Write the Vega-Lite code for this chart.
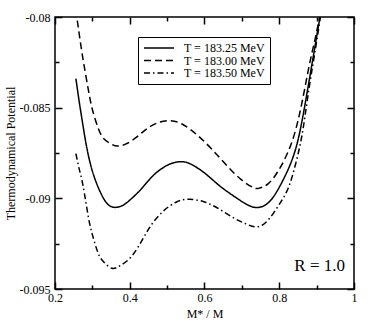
{
  "$schema": "https://vega.github.io/schema/vega-lite/v6.json",
  "width": 299,
  "height": 272,
  "autosize": {"type": "none"},
  "padding": {"left": 55, "top": 17, "right": 28, "bottom": 38},
  "background": "white",
  "config": {
    "view": {"stroke": "black", "strokeWidth": 1.5},
    "font": "Liberation Serif",
    "axis": {
      "grid": false,
      "domain": false,
      "tickColor": "black",
      "tickWidth": 1.5,
      "labelColor": "black",
      "labelFont": "Liberation Serif",
      "labelFontSize": 12,
      "titleFont": "Liberation Serif",
      "titleFontWeight": "normal",
      "titleColor": "black",
      "titleFontSize": 12
    }
  },
  "datasets": {
    "curves": [
      {"T": "T = 183.25 MeV", "m": 0.256, "v": -0.0834},
      {"T": "T = 183.25 MeV", "m": 0.265, "v": -0.0847},
      {"T": "T = 183.25 MeV", "m": 0.275, "v": -0.0860},
      {"T": "T = 183.25 MeV", "m": 0.285, "v": -0.0872},
      {"T": "T = 183.25 MeV", "m": 0.300, "v": -0.0885},
      {"T": "T = 183.25 MeV", "m": 0.320, "v": -0.0896},
      {"T": "T = 183.25 MeV", "m": 0.340, "v": -0.0903},
      {"T": "T = 183.25 MeV", "m": 0.360, "v": -0.0905},
      {"T": "T = 183.25 MeV", "m": 0.380, "v": -0.0904},
      {"T": "T = 183.25 MeV", "m": 0.400, "v": -0.0901},
      {"T": "T = 183.25 MeV", "m": 0.430, "v": -0.0895},
      {"T": "T = 183.25 MeV", "m": 0.460, "v": -0.0888},
      {"T": "T = 183.25 MeV", "m": 0.490, "v": -0.0883},
      {"T": "T = 183.25 MeV", "m": 0.515, "v": -0.08805},
      {"T": "T = 183.25 MeV", "m": 0.535, "v": -0.08798},
      {"T": "T = 183.25 MeV", "m": 0.560, "v": -0.08808},
      {"T": "T = 183.25 MeV", "m": 0.600, "v": -0.0886},
      {"T": "T = 183.25 MeV", "m": 0.640, "v": -0.0893},
      {"T": "T = 183.25 MeV", "m": 0.680, "v": -0.0899},
      {"T": "T = 183.25 MeV", "m": 0.710, "v": -0.0903},
      {"T": "T = 183.25 MeV", "m": 0.735, "v": -0.0905},
      {"T": "T = 183.25 MeV", "m": 0.760, "v": -0.0904},
      {"T": "T = 183.25 MeV", "m": 0.785, "v": -0.0899},
      {"T": "T = 183.25 MeV", "m": 0.810, "v": -0.0890},
      {"T": "T = 183.25 MeV", "m": 0.830, "v": -0.0881},
      {"T": "T = 183.25 MeV", "m": 0.850, "v": -0.0868},
      {"T": "T = 183.25 MeV", "m": 0.870, "v": -0.0847},
      {"T": "T = 183.25 MeV", "m": 0.890, "v": -0.0823},
      {"T": "T = 183.25 MeV", "m": 0.909, "v": -0.0800},
      {"T": "T = 183.00 MeV", "m": 0.2597, "v": -0.0802},
      {"T": "T = 183.00 MeV", "m": 0.268, "v": -0.0814},
      {"T": "T = 183.00 MeV", "m": 0.278, "v": -0.0827},
      {"T": "T = 183.00 MeV", "m": 0.290, "v": -0.0841},
      {"T": "T = 183.00 MeV", "m": 0.300, "v": -0.0851},
      {"T": "T = 183.00 MeV", "m": 0.315, "v": -0.0861},
      {"T": "T = 183.00 MeV", "m": 0.330, "v": -0.0867},
      {"T": "T = 183.00 MeV", "m": 0.350, "v": -0.0870},
      {"T": "T = 183.00 MeV", "m": 0.367, "v": -0.08712},
      {"T": "T = 183.00 MeV", "m": 0.390, "v": -0.0870},
      {"T": "T = 183.00 MeV", "m": 0.420, "v": -0.0866},
      {"T": "T = 183.00 MeV", "m": 0.450, "v": -0.0861},
      {"T": "T = 183.00 MeV", "m": 0.480, "v": -0.0858},
      {"T": "T = 183.00 MeV", "m": 0.508, "v": -0.08572},
      {"T": "T = 183.00 MeV", "m": 0.540, "v": -0.0859},
      {"T": "T = 183.00 MeV", "m": 0.580, "v": -0.0865},
      {"T": "T = 183.00 MeV", "m": 0.620, "v": -0.0873},
      {"T": "T = 183.00 MeV", "m": 0.660, "v": -0.0882},
      {"T": "T = 183.00 MeV", "m": 0.700, "v": -0.0890},
      {"T": "T = 183.00 MeV", "m": 0.730, "v": -0.0894},
      {"T": "T = 183.00 MeV", "m": 0.745, "v": -0.08945},
      {"T": "T = 183.00 MeV", "m": 0.770, "v": -0.0892},
      {"T": "T = 183.00 MeV", "m": 0.797, "v": -0.0885},
      {"T": "T = 183.00 MeV", "m": 0.820, "v": -0.0876},
      {"T": "T = 183.00 MeV", "m": 0.840, "v": -0.0865},
      {"T": "T = 183.00 MeV", "m": 0.860, "v": -0.0848},
      {"T": "T = 183.00 MeV", "m": 0.880, "v": -0.0827},
      {"T": "T = 183.00 MeV", "m": 0.895, "v": -0.0813},
      {"T": "T = 183.00 MeV", "m": 0.908, "v": -0.0800},
      {"T": "T = 183.50 MeV", "m": 0.256, "v": -0.08754},
      {"T": "T = 183.50 MeV", "m": 0.265, "v": -0.0884},
      {"T": "T = 183.50 MeV", "m": 0.275, "v": -0.0893},
      {"T": "T = 183.50 MeV", "m": 0.289, "v": -0.0910},
      {"T": "T = 183.50 MeV", "m": 0.300, "v": -0.0920},
      {"T": "T = 183.50 MeV", "m": 0.315, "v": -0.0930},
      {"T": "T = 183.50 MeV", "m": 0.330, "v": -0.0935},
      {"T": "T = 183.50 MeV", "m": 0.352, "v": -0.09386},
      {"T": "T = 183.50 MeV", "m": 0.375, "v": -0.0937},
      {"T": "T = 183.50 MeV", "m": 0.405, "v": -0.0932},
      {"T": "T = 183.50 MeV", "m": 0.436, "v": -0.0922},
      {"T": "T = 183.50 MeV", "m": 0.460, "v": -0.0914},
      {"T": "T = 183.50 MeV", "m": 0.490, "v": -0.0907},
      {"T": "T = 183.50 MeV", "m": 0.525, "v": -0.0902},
      {"T": "T = 183.50 MeV", "m": 0.560, "v": -0.09005},
      {"T": "T = 183.50 MeV", "m": 0.600, "v": -0.0902},
      {"T": "T = 183.50 MeV", "m": 0.640, "v": -0.0906},
      {"T": "T = 183.50 MeV", "m": 0.680, "v": -0.0911},
      {"T": "T = 183.50 MeV", "m": 0.710, "v": -0.0914},
      {"T": "T = 183.50 MeV", "m": 0.735, "v": -0.09157},
      {"T": "T = 183.50 MeV", "m": 0.760, "v": -0.0914},
      {"T": "T = 183.50 MeV", "m": 0.785, "v": -0.0908},
      {"T": "T = 183.50 MeV", "m": 0.810, "v": -0.0900},
      {"T": "T = 183.50 MeV", "m": 0.830, "v": -0.0891},
      {"T": "T = 183.50 MeV", "m": 0.851, "v": -0.0875},
      {"T": "T = 183.50 MeV", "m": 0.865, "v": -0.0860},
      {"T": "T = 183.50 MeV", "m": 0.880, "v": -0.0839},
      {"T": "T = 183.50 MeV", "m": 0.895, "v": -0.0820},
      {"T": "T = 183.50 MeV", "m": 0.910, "v": -0.0800}
    ]
  },
  "layer": [
    {
      "data": {"name": "curves"},
      "mark": {"type": "line", "strokeWidth": 1.5, "color": "black", "interpolate": "natural", "clip": true},
      "encoding": {
        "x": {
          "field": "m", "type": "quantitative",
          "scale": {"domain": [0.2, 1], "nice": false, "zero": false},
          "axis": {"orient": "bottom", "values": [0.2, 0.4, 0.6, 0.8, 1], "tickSize": -7, "labelPadding": 10, "labelExpr": "'' + datum.value", "labelFlush": false, "labelOverlap": false, "title": "M* / M", "titleY": 28, "titleBaseline": "alphabetic"}
        },
        "y": {
          "field": "v", "type": "quantitative",
          "scale": {"domain": [-0.095, -0.08], "nice": false, "zero": false},
          "axis": {"orient": "left", "values": [-0.095, -0.09, -0.085, -0.08], "tickSize": -7, "labelPadding": 12, "labelExpr": "'' + datum.value", "labelFlush": false, "labelOverlap": false, "title": "Thermodynamical Potential", "titleX": -45, "titleBaseline": "middle"}
        },
        "strokeDash": {
          "field": "T", "type": "nominal",
          "scale": {"domain": ["T = 183.25 MeV", "T = 183.00 MeV", "T = 183.50 MeV"], "range": [[1, 0], [7, 4], [6, 3, 1.5, 3]]},
          "legend": {"orient": "none", "legendX": 83, "legendY": 20, "title": null, "strokeColor": "black", "fillColor": "white", "padding": 5, "symbolType": "M-1,0H5", "symbolSize": 100, "symbolStrokeWidth": 1.5, "symbolStrokeColor": "black", "labelFont": "Liberation Serif", "labelFontSize": 12, "labelColor": "black", "labelOffset": 29, "rowPadding": 0.5}
        }
      }
    },
    {
      "data": {"values": [{}]},
      "mark": {"type": "text", "align": "right", "baseline": "alphabetic", "fontSize": 17, "font": "Liberation Serif", "color": "black", "text": "R = 1.0"},
      "encoding": {
        "x": {"datum": 0.976, "type": "quantitative", "axis": {"orient": "top", "values": [0.2, 0.4, 0.6, 0.8, 1], "tickSize": -7, "labels": false, "title": null}},
        "y": {"datum": -0.094, "type": "quantitative", "axis": {"orient": "right", "values": [-0.095, -0.09, -0.085, -0.08], "tickSize": -7, "labels": false, "title": null}}
      }
    },
    {
      "data": {"name": "curves"},
      "mark": {"type": "point", "opacity": 0},
      "encoding": {
        "x": {"field": "m", "type": "quantitative", "axis": {"orient": "bottom", "values": [0.3, 0.5, 0.7, 0.9], "tickSize": -4, "labels": false, "title": null}},
        "y": {"field": "v", "type": "quantitative", "axis": {"orient": "left", "values": [-0.0925, -0.0875, -0.0825], "tickSize": -4, "labels": false, "title": null}}
      }
    },
    {
      "data": {"name": "curves"},
      "mark": {"type": "point", "opacity": 0},
      "encoding": {
        "x": {"field": "m", "type": "quantitative", "axis": {"orient": "top", "values": [0.3, 0.5, 0.7, 0.9], "tickSize": -4, "labels": false, "title": null}},
        "y": {"field": "v", "type": "quantitative", "axis": {"orient": "right", "values": [-0.0925, -0.0875, -0.0825], "tickSize": -4, "labels": false, "title": null}}
      }
    }
  ],
  "resolve": {"axis": {"x": "independent", "y": "independent"}}
}
